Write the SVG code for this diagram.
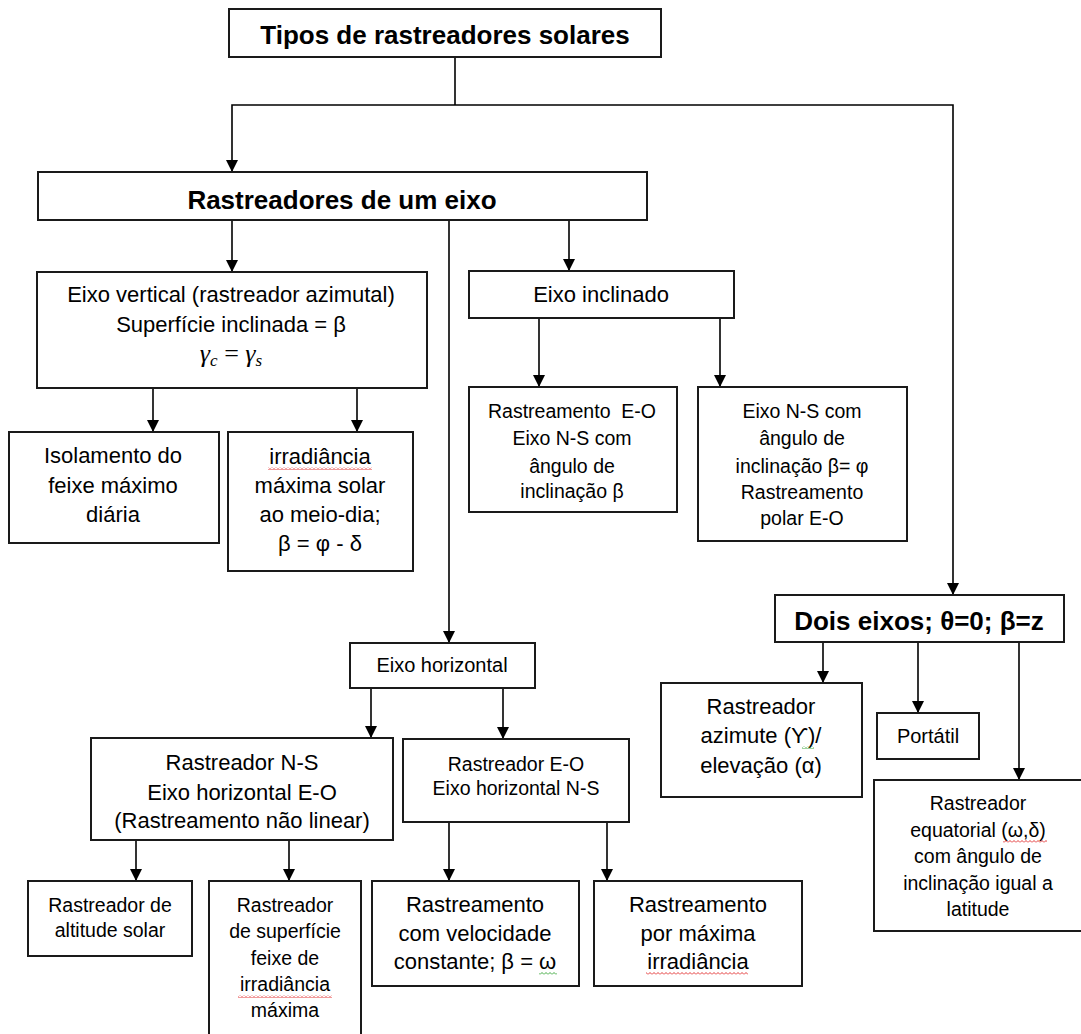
<svg xmlns="http://www.w3.org/2000/svg" width="1081" height="1034" viewBox="0 0 1081 1034">
<style>
  .box{fill:#fff;stroke:#1a1a1a;stroke-width:2}
  .t{font-family:"Liberation Sans",Arial,"DejaVu Sans",sans-serif;fill:#000;text-anchor:middle}
  .b{font-weight:bold;font-size:26px}
  .l{font-size:22px}
  .s{font-size:19.5px}
  .m{font-family:"Liberation Serif","DejaVu Serif",serif;font-style:italic;font-size:26px;fill:#000;text-anchor:middle}
  .c{fill:none;stroke:#000;stroke-width:1.6}
  .a{marker-end:url(#ah)}
  .sq{stroke:none}
</style>
<defs>
  <marker id="ah" markerUnits="userSpaceOnUse" markerWidth="12" markerHeight="12" refX="12" refY="6" orient="auto" viewBox="0 0 12 12">
    <path d="M0,0 L12,6 L0,12 Z" fill="#000"/>
  </marker>
  <pattern id="wr" patternUnits="userSpaceOnUse" width="4" height="3">
    <path d="M0,2.5 L2,0.5 L4,2.5" fill="none" stroke="#e02020" stroke-width="0.9"/>
  </pattern>
  <pattern id="wg" patternUnits="userSpaceOnUse" width="4" height="3">
    <path d="M0,2.5 L2,0.5 L4,2.5" fill="none" stroke="#2aa02a" stroke-width="0.9"/>
  </pattern>
</defs>
<rect width="1081" height="1034" fill="#fff"/>

<g id="connectors">
  <path class="c" d="M455,57 V105"/>
  <path class="c a" d="M455,105 H232 V172"/>
  <path class="c a" d="M455,105 H953 V595"/>
  <path class="c a" d="M232,220 V272"/>
  <path class="c a" d="M569,220 V271"/>
  <path class="c a" d="M449,220 V643"/>
  <path class="c a" d="M153,388 V432"/>
  <path class="c a" d="M357,388 V432"/>
  <path class="c a" d="M539,318 V387"/>
  <path class="c a" d="M720,318 V387"/>
  <path class="c a" d="M823,642 V683"/>
  <path class="c a" d="M918,642 V713"/>
  <path class="c a" d="M1019,642 V780"/>
  <path class="c a" d="M371,688 V738"/>
  <path class="c a" d="M503,688 V739"/>
  <path class="c a" d="M136,840 V881"/>
  <path class="c a" d="M289,840 V881"/>
  <path class="c a" d="M449,822 V881"/>
  <path class="c a" d="M607,822 V881"/>
</g>

<g id="n-title">
  <rect class="box" x="229" y="9" width="432" height="48"/>
  <text class="t b" x="445" y="44">Tipos de rastreadores solares</text>
</g>

<g id="n-um-eixo">
  <rect class="box" x="38" y="172" width="609" height="48"/>
  <text class="t b" x="342" y="209">Rastreadores de um eixo</text>
</g>

<g id="n-eixo-vertical">
  <rect class="box" x="37" y="272" width="390" height="116"/>
  <text class="t l" x="231" y="302">Eixo vertical (rastreador azimutal)</text>
  <text class="t l" x="231" y="332">Superfície inclinada = β</text>
  <text class="m" x="231" y="362">γ<tspan dy="4" font-size="17">c</tspan><tspan dy="-4" font-style="normal"> = </tspan>γ<tspan dy="4" font-size="17">s</tspan></text>
</g>

<g id="n-isolamento">
  <rect class="box" x="9" y="432" width="210" height="111"/>
  <text class="t l" x="113" y="463">Isolamento do</text>
  <text class="t l" x="113" y="493">feixe máximo</text>
  <text class="t l" x="113" y="522">diária</text>
</g>

<g id="n-irradiancia">
  <rect class="box" x="228" y="432" width="185" height="139"/>
  <text class="t l" x="320" y="464">irradiância</text>
  <text class="t l" x="320" y="493">máxima solar</text>
  <text class="t l" x="320" y="522">ao meio-dia;</text>
  <text class="t l" x="320" y="551">β = φ - δ</text>
  <rect class="sq" x="268" y="467" width="104" height="3" fill="url(#wr)"/>
</g>

<g id="n-eixo-inclinado">
  <rect class="box" x="469" y="271" width="265" height="47"/>
  <text class="t l" x="601" y="302">Eixo inclinado</text>
</g>

<g id="n-inclinado-eo">
  <rect class="box" x="469" y="387" width="208" height="125"/>
  <text class="t s" x="572" y="418">Rastreamento&#160; E-O</text>
  <text class="t s" x="572" y="445">Eixo N-S com</text>
  <text class="t s" x="572" y="473">ângulo de</text>
  <text class="t s" x="572" y="498">inclinação β</text>
</g>

<g id="n-inclinado-ns">
  <rect class="box" x="698" y="387" width="209" height="154"/>
  <text class="t s" x="802" y="418">Eixo N-S com</text>
  <text class="t s" x="802" y="445">ângulo de</text>
  <text class="t s" x="802" y="473">inclinação β= φ</text>
  <text class="t s" x="802" y="499">Rastreamento</text>
  <text class="t s" x="802" y="525">polar E-O</text>
</g>

<g id="n-dois-eixos">
  <rect class="box" x="775" y="595" width="289" height="47"/>
  <text class="t b" x="919" y="630">Dois eixos; θ=0; β=z</text>
</g>

<g id="n-azimute">
  <rect class="box" x="661" y="683" width="201" height="114"/>
  <text class="t l" x="761" y="714">Rastreador</text>
  <text class="t l" x="761" y="743">azimute (ϒ)/</text>
  <text class="t l" x="761" y="773">elevação (α)</text>
  <rect class="sq" x="802" y="746" width="12" height="3" fill="url(#wg)"/>
</g>

<g id="n-portatil">
  <rect class="box" x="877" y="713" width="102" height="46"/>
  <text class="t" style="font-size:20px" x="928" y="743">Portátil</text>
</g>

<g id="n-equatorial">
  <rect class="box" x="874" y="780" width="214" height="151"/>
  <text class="t s" x="978" y="810">Rastreador</text>
  <text class="t s" x="978" y="837">equatorial (ω,δ)</text>
  <text class="t s" x="978" y="863">com ângulo de</text>
  <text class="t s" x="978" y="890">inclinação igual a</text>
  <text class="t s" x="978" y="916">latitude</text>
  <rect class="sq" x="1003" y="840" width="44" height="3" fill="url(#wr)"/>
</g>

<g id="n-eixo-horizontal">
  <rect class="box" x="350" y="643" width="185" height="45"/>
  <text class="t" style="font-size:20px" x="442" y="672">Eixo horizontal</text>
</g>

<g id="n-horizontal-ns">
  <rect class="box" x="91" y="738" width="302" height="102"/>
  <text class="t l" x="242" y="770">Rastreador N-S</text>
  <text class="t l" x="242" y="800">Eixo horizontal E-O</text>
  <text class="t l" x="242" y="828">(Rastreamento não linear)</text>
</g>

<g id="n-horizontal-eo">
  <rect class="box" x="403" y="739" width="226" height="83"/>
  <text class="t s" x="516" y="771">Rastreador E-O</text>
  <text class="t s" x="516" y="795">Eixo horizontal N-S</text>
</g>

<g id="n-altitude">
  <rect class="box" x="28" y="881" width="164" height="75"/>
  <text class="t s" x="110" y="912">Rastreador de</text>
  <text class="t s" x="110" y="937">altitude solar</text>
</g>

<g id="n-superficie">
  <rect class="box" x="209" y="881" width="152" height="160"/>
  <text class="t s" x="285" y="912">Rastreador</text>
  <text class="t s" x="285" y="938">de superfície</text>
  <text class="t s" x="285" y="965">feixe de</text>
  <text class="t s" x="285" y="991">irradiância</text>
  <text class="t s" x="285" y="1017">máxima</text>
  <rect class="sq" x="238" y="995" width="94" height="3" fill="url(#wr)"/>
</g>

<g id="n-velocidade">
  <rect class="box" x="372" y="881" width="207" height="105"/>
  <text class="t l" x="475" y="912">Rastreamento</text>
  <text class="t l" x="475" y="941">com velocidade</text>
  <text class="t l" x="475" y="969">constante; β = ω</text>
  <rect class="sq" x="539" y="972" width="18" height="3" fill="url(#wg)"/>
</g>

<g id="n-maxima">
  <rect class="box" x="594" y="881" width="208" height="105"/>
  <text class="t l" x="698" y="912">Rastreamento</text>
  <text class="t l" x="698" y="941">por máxima</text>
  <text class="t l" x="698" y="969">irradiância</text>
  <rect class="sq" x="646" y="972" width="102" height="3" fill="url(#wr)"/>
</g>
</svg>
